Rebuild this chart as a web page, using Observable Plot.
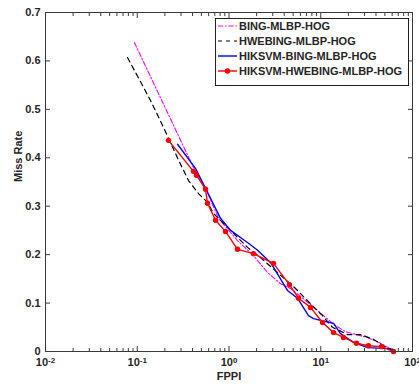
<!DOCTYPE html>
<html><head><meta charset="utf-8">
<script src="https://cdn.jsdelivr.net/npm/d3@7"></script>
<script src="https://cdn.jsdelivr.net/npm/@observablehq/plot@0.6"></script>
<style>body{margin:0;background:#fff}</style>
</head><body><div id="chart"></div><script>
// Series names
const seriesNames = ["BING-MLBP-HOG", "HWEBING-MLBP-HOG", "HIKSVM-BING-MLBP-HOG", "HIKSVM-HWEBING-MLBP-HOG"];
const seriesColors = ["#ff00ff", "#000000", "#0000ff", "#ff0000"];

// BING-MLBP-HOG (magenta dash-dot)
const bingFppi = [0.093, 0.41, 0.555, 0.769, 1.238, 1.85, 2.63, 3.64, 4.68, 6.01, 7.73, 10.45, 13.8, 18.6, 32.3, 44.8, 54.7, 62.1];
const bingMiss = [0.638, 0.380, 0.337, 0.275, 0.229, 0.198, 0.163, 0.140, 0.130, 0.114, 0.097, 0.076, 0.056, 0.041, 0.029, 0.017, 0.008, 0.0];

// HWEBING-MLBP-HOG (black dashed)
const hwebFppi = [0.0783, 0.139, 0.193, 0.282, 0.362, 0.465, 0.583, 0.678, 1.12, 1.59, 2.20, 3.38, 5.31, 7.17, 10.45, 13.4, 19.6, 27.1, 37.6, 48.3, 62.1];
const hwebMiss = [0.607, 0.519, 0.463, 0.395, 0.353, 0.326, 0.308, 0.285, 0.244, 0.215, 0.194, 0.163, 0.130, 0.105, 0.074, 0.050, 0.035, 0.035, 0.025, 0.012, 0.0];

// HIKSVM-BING-MLBP-HOG (blue solid)
const hikBingFppi = [0.275, 0.431, 0.555, 0.808, 1.04, 1.59, 2.05, 2.83, 4.34, 5.58, 7.35, 8.34, 11.3, 13.8, 16.4, 22.7, 32.3, 57.5, 62.1];
const hikBingMiss = [0.428, 0.378, 0.337, 0.275, 0.250, 0.225, 0.209, 0.184, 0.126, 0.110, 0.074, 0.068, 0.062, 0.058, 0.037, 0.019, 0.008, 0.006, 0.0];

// HIKSVM-HWEBING-MLBP-HOG (red solid with markers)
const hikHwebFppi = [0.219, 0.410, 0.442, 0.555, 0.583, 0.713, 0.916, 1.238, 1.85, 3.05, 4.56, 5.72, 7.73, 10.45, 13.8, 17.7, 24.5, 33.1, 45.9, 62.1];
const hikHwebMiss = [0.436, 0.372, 0.364, 0.335, 0.306, 0.271, 0.248, 0.211, 0.202, 0.182, 0.138, 0.110, 0.091, 0.060, 0.039, 0.029, 0.017, 0.012, 0.010, 0.0];

// Ticks
const xMajorTicks = [0.01, 0.1, 1, 10, 100];
const xMinorTicks = [];
for (const base of [0.01, 0.1, 1, 10]) for (let k = 2; k <= 9; k++) xMinorTicks.push(+(base * k).toPrecision(3));
const yTicks = [0, 0.1, 0.2, 0.3, 0.4, 0.5, 0.6, 0.7];

const toRows = (xs, ys) => xs.map((x, i) => ({fppi: x, miss: ys[i]}));
const bing = toRows(bingFppi, bingMiss);
const hweb = toRows(hwebFppi, hwebMiss);
const hikBing = toRows(hikBingFppi, hikBingMiss);
const hikHweb = toRows(hikHwebFppi, hikHwebMiss);

const axisColor = "#3a3a3a";
const textColor = "#262626";

const chart = Plot.plot({
  width: 419,
  height: 387,
  marginLeft: 45,
  marginRight: 7,
  marginTop: 12,
  marginBottom: 36,
  style: {fontFamily: "'Liberation Sans', Arial, sans-serif", fontSize: "11px", fontWeight: "bold", color: textColor, background: "#fff"},
  x: {type: "log", domain: [0.01, 100]},
  y: {domain: [0, 0.7]},
  marks: [
    Plot.line(bing, {x: "fppi", y: "miss", stroke: seriesColors[0], strokeWidth: 1.1, strokeDasharray: "5,2,1.5,2"}),
    Plot.line(hweb, {x: "fppi", y: "miss", stroke: seriesColors[1], strokeWidth: 1.2, strokeDasharray: "5,4"}),
    Plot.line(hikBing, {x: "fppi", y: "miss", stroke: seriesColors[2], strokeWidth: 1.4}),
    Plot.line(hikHweb, {x: "fppi", y: "miss", stroke: seriesColors[3], strokeWidth: 1.4}),
    Plot.dot(hikHweb, {x: "fppi", y: "miss", fill: seriesColors[3], r: 2.7, stroke: null}),
    Plot.frame({stroke: axisColor, strokeWidth: 1}),
    // inward ticks
    Plot.axisX(xMajorTicks, {anchor: "bottom", tickSize: 5, dy: -5, tickFormat: () => "", label: null, stroke: axisColor}),
    Plot.axisX(xMajorTicks, {anchor: "top", tickSize: 5, dy: 5, tickFormat: () => "", label: null, stroke: axisColor}),
    Plot.axisX(xMinorTicks, {anchor: "bottom", tickSize: 3, dy: -3, tickFormat: () => "", label: null, stroke: axisColor}),
    Plot.axisX(xMinorTicks, {anchor: "top", tickSize: 3, dy: 3, tickFormat: () => "", label: null, stroke: axisColor}),
    Plot.axisY(yTicks, {anchor: "left", tickSize: 5, dx: 5, tickFormat: () => "", label: null, stroke: axisColor}),
    Plot.axisY(yTicks, {anchor: "right", tickSize: 5, dx: -5, tickFormat: () => "", label: null, stroke: axisColor}),
    // labels
    Plot.axisX(xMajorTicks, {anchor: "bottom", tickSize: 0, tickPadding: 7, tickFormat: d => "10^" + Math.round(Math.log10(d)), label: null, fill: textColor}),
    Plot.axisY(yTicks, {anchor: "left", tickSize: 0, tickPadding: 5, tickFormat: d => String(d), label: null, fill: textColor}),
    Plot.text(["FPPI"], {frameAnchor: "bottom", dy: 28, fill: textColor}),
    Plot.text(["Miss Rate"], {frameAnchor: "left", dx: -27, rotate: -90, fill: textColor})
  ]
});

document.getElementById("chart").appendChild(chart);

// superscript exponents on x tick labels
d3.select(chart).selectAll('g[aria-label="x-axis tick label"] text').each(function() {
  const t = d3.select(this);
  const s = t.text();
  if (!s.includes("^")) return;
  const [base, exp] = s.split("^");
  t.text(null);
  t.append("tspan").text(base);
  t.append("tspan").attr("dy", "-0.45em").attr("font-size", "8px").text(exp);
});

// legend
const lg = d3.select(chart).append("g")
  .attr("font-family", "'Liberation Sans', Arial, sans-serif")
  .attr("font-size", 11).attr("font-weight", "bold")
  .attr("text-anchor", "start");
lg.append("rect").attr("x", 215.5).attr("y", 18.5).attr("width", 193).attr("height", 67)
  .attr("fill", "#fff").attr("stroke", "#222").attr("stroke-width", 1);
const dashes = ["5,2,1.5,2", "4,4", null, null];
const widths = [1.1, 1.2, 1.4, 1.4];
seriesNames.forEach((name, i) => {
  const y = 26 + i * 15;
  lg.append("line").attr("x1", 218).attr("x2", 237).attr("y1", y).attr("y2", y)
    .attr("stroke", seriesColors[i]).attr("stroke-width", widths[i])
    .attr("stroke-dasharray", dashes[i]);
  if (i === 3) lg.append("circle").attr("cx", 227.5).attr("cy", y).attr("r", 2.7).attr("fill", seriesColors[i]);
  lg.append("text").attr("x", 239).attr("y", y).attr("dy", "0.35em").attr("text-anchor", "start").attr("fill", textColor).text(name);
});
</script></body></html>
